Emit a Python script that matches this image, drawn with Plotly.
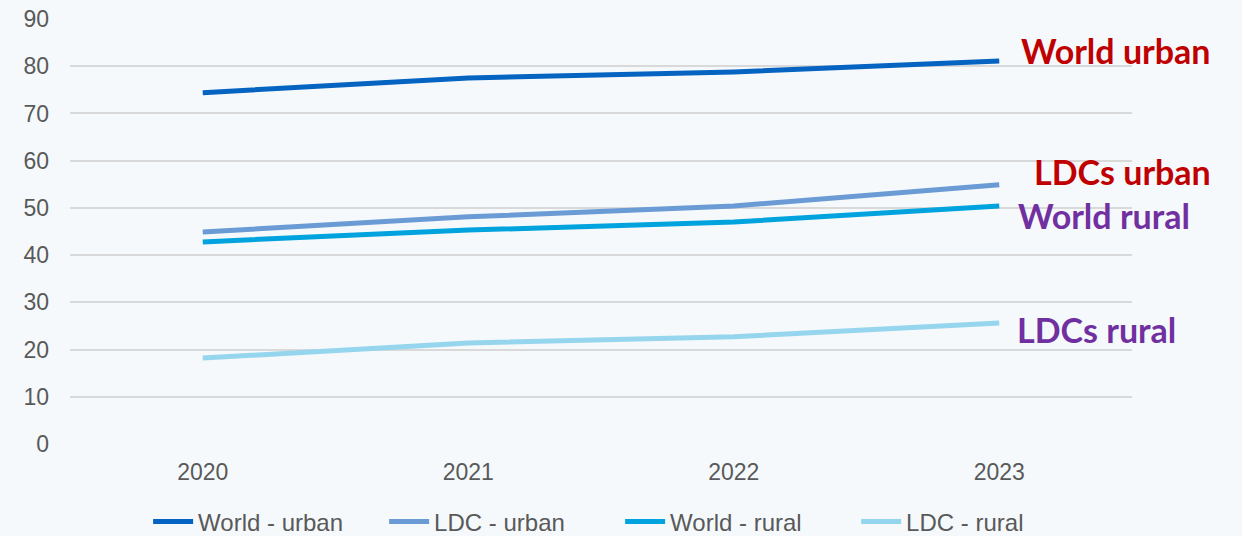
import plotly.graph_objects as go

years = ["2020", "2021", "2022", "2023"]
world_urban = [74.4, 77.5, 78.8, 81.1]
ldc_urban = [44.9, 48.1, 50.4, 54.9]
world_rural = [42.8, 45.3, 47.0, 50.4]
ldc_rural = [18.2, 21.4, 22.7, 25.6]

y_ticks = [0, 10, 20, 30, 40, 50, 60, 70, 80, 90]

series = [
    ("World - urban", world_urban, "#0563C1"),
    ("LDC - urban", ldc_urban, "#6A9BD5"),
    ("World - rural", world_rural, "#00A3DD"),
    ("LDC - rural", ldc_rural, "#95D5EE"),
]

# End-of-line callouts: text, series values, colour, offsets
callouts = [
    ("World urban", world_urban, "#C00000", 20, 11),
    ("LDCs urban", ldc_urban, "#C00000", 33, 13),
    ("World rural", world_rural, "#7030A0", 17, -9),
    ("LDCs rural", ldc_rural, "#7030A0", 16, -6),
]

fig = go.Figure()
for name, vals, color in series:
    fig.add_trace(go.Scatter(
        x=years, y=vals, name=name, mode="lines",
        line=dict(color=color, width=5),
        hoverinfo="skip",
    ))

last_idx = len(years) - 1  # category index of the final year
for text, vals, color, dx, dy in callouts:
    fig.add_annotation(
        x=last_idx, y=vals[-1], xref="x", yref="y",
        text=f"<b>{text}</b>", showarrow=False,
        xanchor="left", yanchor="middle", xshift=dx, yshift=dy,
        font=dict(family="Lato, Open Sans, sans-serif", size=34, color=color),
    )

bg = "#F5F9FC"
fig.update_layout(
    width=1242, height=536,
    paper_bgcolor=bg, plot_bgcolor=bg,
    margin=dict(l=70, r=110, t=19, b=92, autoexpand=False),
    font=dict(family="Liberation Sans, Arial, sans-serif", size=23, color="#595959"),
    showlegend=True,
    legend=dict(
        orientation="h", x=0.518, xanchor="center", y=-0.1835, yanchor="middle",
        font=dict(size=24, color="#595959"), bgcolor="rgba(0,0,0,0)",
        itemwidth=40, entrywidth=181,
    ),
    xaxis=dict(
        type="category", range=[-0.5, len(years) - 0.5],
        showgrid=False, showline=False, zeroline=False,
        ticks="", tickfont=dict(size=23, color="#595959"),
        ticklabelstandoff=12,
    ),
    yaxis=dict(
        range=[0, 90], tickvals=y_ticks, showgrid=True, gridcolor="#D9D9D9",
        gridwidth=1.5, zeroline=False, showline=False, ticks="",
        tickfont=dict(size=23, color="#595959"), ticklabelstandoff=20,
    ),
)

fig.write_html("out.html")
